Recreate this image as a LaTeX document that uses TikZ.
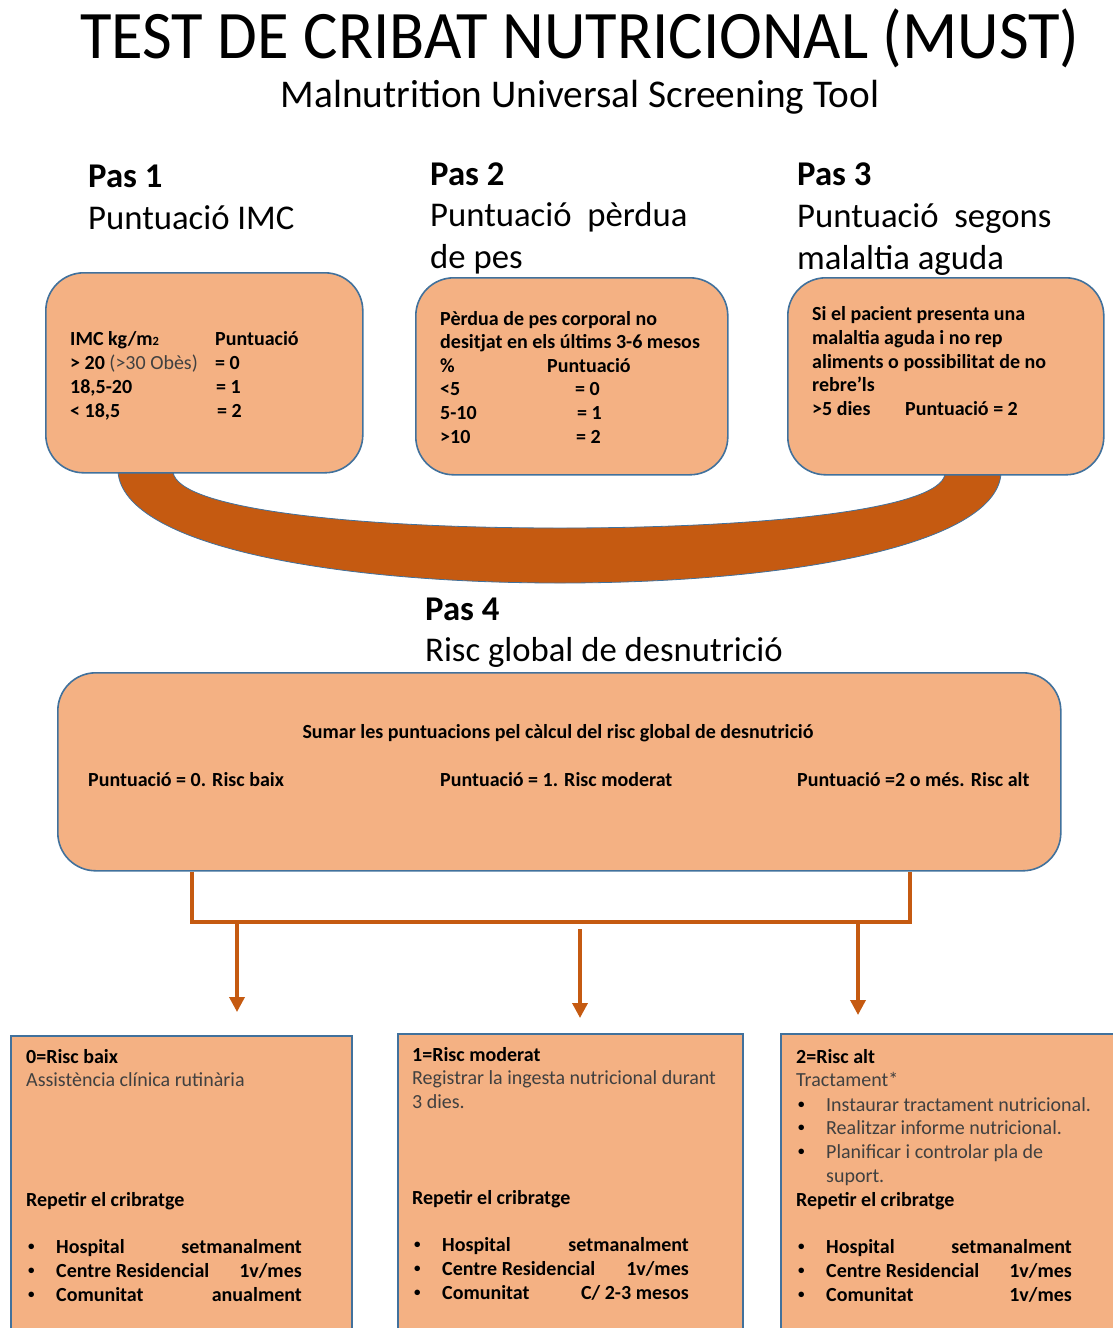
\documentclass[tikz,border=0pt]{standalone}
\usepackage{fontspec}
\setmainfont{Carlito}
\newfontfamily\titlefam[FakeStretch=0.95]{Carlito}
\usetikzlibrary{arrows.meta}
\definecolor{boxfill}{HTML}{F4B183}
\definecolor{boxline}{HTML}{41719C}
\definecolor{rust}{HTML}{C55A11}
\definecolor{txtgray}{HTML}{404040}
\newcommand\smfont{\fontsize{20}{24}\selectfont}
\newcommand\hdfont{\fontsize{34.7}{42}\selectfont}
\newcommand\subtwo{{\fontsize{12.5}{12.5}\selectfont 2}}
\newcommand\bul{\raisebox{2.5pt}{\fontsize{13}{13}\selectfont •}}
\tikzset{
  rbox/.style={draw=boxline, line width=1.6pt, fill=boxfill, rounded corners=38pt, inner sep=0pt, anchor=north west},
  sbox/.style={draw=boxline, line width=1.6pt, fill=boxfill, inner sep=0pt, anchor=north west},
  tb/.style={anchor=base west, inner sep=0pt, font=\smfont\bfseries},
  tr/.style={anchor=base west, inner sep=0pt, font=\smfont, text=txtgray},
  tbr/.style={anchor=base east, inner sep=0pt, font=\smfont\bfseries},
  hb/.style={anchor=base west, inner sep=0pt, font=\hdfont\bfseries},
  hr/.style={anchor=base west, inner sep=0pt, font=\hdfont},
  conn/.style={draw=rust, line width=3.5pt},
  arr/.style={conn, -{Triangle[width=15pt,length=15pt]}},
  band/.style={fill=rust, draw=boxline, line width=0.8pt}
}
\begin{document}
\begin{tikzpicture}[x=1pt,y=-1pt]
\useasboundingbox (0,0) rectangle (1113,1328);
\clip (0,0) rectangle (1113,1328);

% titles
\node[anchor=base, inner sep=0pt, font=\titlefam\fontsize{68}{72}\selectfont] (title) at (580,58) {TEST DE CRIBAT NUTRICIONAL (MUST)};
\node[anchor=base, inner sep=0pt, font=\fontsize{39.3}{42}\selectfont] (subtitle) at (580,107) {Malnutrition Universal Screening Tool};

% step headings
\node[hb] (p1a) at (88,187) {Pas 1};
\node[hr] (p1b) at (88,229) {Puntuació IMC};
\node[hb] (p2a) at (430,185) {Pas 2};
\node[hr] (p2b) at (430,226) {Puntuació\ \ pèrdua};
\node[hr] (p2c) at (430,268) {de pes};
\node[hb] (p3a) at (797,185) {Pas 3};
\node[hr] (p3b) at (797,227) {Puntuació\ \ segons};
\node[hr] (p3c) at (797,269) {malaltia aguda};

% band connecting steps
\path[band] (118,462) -- (118,472) .. controls (124,545) and (330,583) .. (560,583)
  .. controls (790,583) and (995,545) .. (1001,474) -- (1001,462) -- (945,462) -- (945,474)
  .. controls (940,510) and (760,528) .. (560,528)
  .. controls (360,528) and (178,510) .. (173,472) -- (173,462) -- cycle;

% top boxes
\node[rbox, minimum width=317pt, minimum height=200pt] (b1) at (45,272) {};
\node[rbox, minimum width=312pt, minimum height=197pt] (b2) at (415,277) {};
\node[rbox, minimum width=316pt, minimum height=197pt] (b3) at (787,277) {};

% box 1 text
\node[tb] (b1l1) at (70,345) {IMC kg/m\subtwo};
\node[tb] (b1r1) at (215,345) {Puntuació};
\node[tb] (b1l2) at (70,369) {> 20 {\mdseries\color{txtgray}(>30 Obès)}};
\node[tb] (b1r2) at (215,369) {= 0};
\node[tb] (b1l3) at (70,393) {18,5-20};
\node[tb] (b1r3) at (216,393) {= 1};
\node[tb] (b1l4) at (70,417) {< 18,5};
\node[tb] (b1r4) at (217,417) {= 2};

% box 2 text
\node[tb] (b2l1) at (440,325) {Pèrdua de pes corporal no};
\node[tb] (b2l2) at (440,348) {desitjat en els últims 3-6 mesos};
\node[tb] (b2l3) at (440,372) {\%};
\node[tb] (b2r3) at (547,372) {Puntuació};
\node[tb] (b2l4) at (440,395) {<5};
\node[tb] (b2r4) at (575,395) {= 0};
\node[tb] (b2l5) at (440,419) {5-10};
\node[tb] (b2r5) at (577,419) {= 1};
\node[tb] (b2l6) at (440,443) {>10};
\node[tb] (b2r6) at (576,443) {= 2};

% box 3 text
\node[tb] (b3l1) at (812,320) {Si el pacient presenta una};
\node[tb] (b3l2) at (812,344) {malaltia aguda i no rep};
\node[tb] (b3l3) at (812,368) {aliments o possibilitat de no};
\node[tb] (b3l4) at (812,391) {rebre’ls};
\node[tb] (b3l5) at (812,415) {>5 dies};
\node[tb] (b3r5) at (905,415) {Puntuació = 2};

% Pas 4
\node[hb] (p4a) at (425,620) {Pas 4};
\node[hr] (p4b) at (425,661) {Risc global de desnutrició};
\node[rbox, minimum width=1003pt, minimum height=198pt] (b4) at (57,672) {};
\node[anchor=base, inner sep=0pt, font=\smfont\bfseries] (b4t) at (558,738) {Sumar les puntuacions pel càlcul del risc global de desnutrició};
\node[tb] (b4a) at (88,786) {Puntuació = 0. Risc baix};
\node[tb] (b4b) at (440,786) {Puntuació = 1. Risc moderat};
\node[tb] (b4c) at (797,786) {Puntuació =2 o més. Risc alt};

% connectors
\coordinate (c1) at (192,922);
\coordinate (c2) at (910,922);
\draw[conn] (b4.south -| c1) -- (c1) -- (c2) -- (b4.south -| c2);
\coordinate (a1s) at (237,922);
\coordinate (a1e) at (237,1012);
\coordinate (a2s) at (580,929);
\coordinate (a2e) at (580,1018);
\coordinate (a3s) at (858,922);
\coordinate (a3e) at (858,1015);
\draw[arr] (a1s) -- (a1e);
\draw[arr] (a2s) -- (a2e);
\draw[arr] (a3s) -- (a3e);

% bottom boxes
\node[sbox, minimum width=341pt, minimum height=310pt] (r0) at (10,1035) {};
\node[sbox, minimum width=345pt, minimum height=312pt] (r1) at (397,1033) {};
\node[sbox, minimum width=345pt, minimum height=312pt] (r2) at (780,1033) {};

% box r0
\node[tb] (r0a) at (26,1063) {0=Risc baix};
\node[tr] (r0b) at (26,1086) {Assistència clínica rutinària};
\node[tb] (r0c) at (26,1206) {Repetir el cribratge};
\node[tb] (r0d1) at (28,1253) {\bul};
\node[tb] (r0d2) at (56,1253) {Hospital};
\node[tbr] (r0d3) at (302,1253) {setmanalment};
\node[tb] (r0e1) at (28,1277) {\bul};
\node[tb] (r0e2) at (56,1277) {Centre Residencial};
\node[tbr] (r0e3) at (302,1277) {1v/mes};
\node[tb] (r0f1) at (28,1301) {\bul};
\node[tb] (r0f2) at (56,1301) {Comunitat};
\node[tbr] (r0f3) at (302,1301) {anualment};

% box r1
\node[tb] (r1a) at (412,1061) {1=Risc moderat};
\node[tr] (r1b) at (412,1084) {Registrar la ingesta nutricional durant};
\node[tr] (r1c) at (412,1108) {3 dies.};
\node[tb] (r1d) at (412,1204) {Repetir el cribratge};
\node[tb] (r1e1) at (414,1251) {\bul};
\node[tb] (r1e2) at (442,1251) {Hospital};
\node[tbr] (r1e3) at (689,1251) {setmanalment};
\node[tb] (r1f1) at (414,1275) {\bul};
\node[tb] (r1f2) at (442,1275) {Centre Residencial};
\node[tbr] (r1f3) at (689,1275) {1v/mes};
\node[tb] (r1g1) at (414,1299) {\bul};
\node[tb] (r1g2) at (442,1299) {Comunitat};
\node[tbr] (r1g3) at (689,1299) {C/ 2-3 mesos};

% box r2
\node[tb] (r2a) at (796,1063) {2=Risc alt};
\node[tr] (r2b) at (796,1086) {Tractament*};
\node[tb] (r2c1) at (798,1111) {\bul};
\node[tr] (r2c2) at (826,1111) {Instaurar tractament nutricional.};
\node[tb] (r2d1) at (798,1134) {\bul};
\node[tr] (r2d2) at (826,1134) {Realitzar informe nutricional.};
\node[tb] (r2e1) at (798,1158) {\bul};
\node[tr] (r2e2) at (826,1158) {Planificar i controlar pla de};
\node[tr] (r2e3) at (826,1182) {suport.};
\node[tb] (r2f) at (796,1206) {Repetir el cribratge};
\node[tb] (r2g1) at (798,1253) {\bul};
\node[tb] (r2g2) at (826,1253) {Hospital};
\node[tbr] (r2g3) at (1072,1253) {setmanalment};
\node[tb] (r2h1) at (798,1277) {\bul};
\node[tb] (r2h2) at (826,1277) {Centre Residencial};
\node[tbr] (r2h3) at (1072,1277) {1v/mes};
\node[tb] (r2i1) at (798,1301) {\bul};
\node[tb] (r2i2) at (826,1301) {Comunitat};
\node[tbr] (r2i3) at (1072,1301) {1v/mes};
\end{tikzpicture}
\end{document}
